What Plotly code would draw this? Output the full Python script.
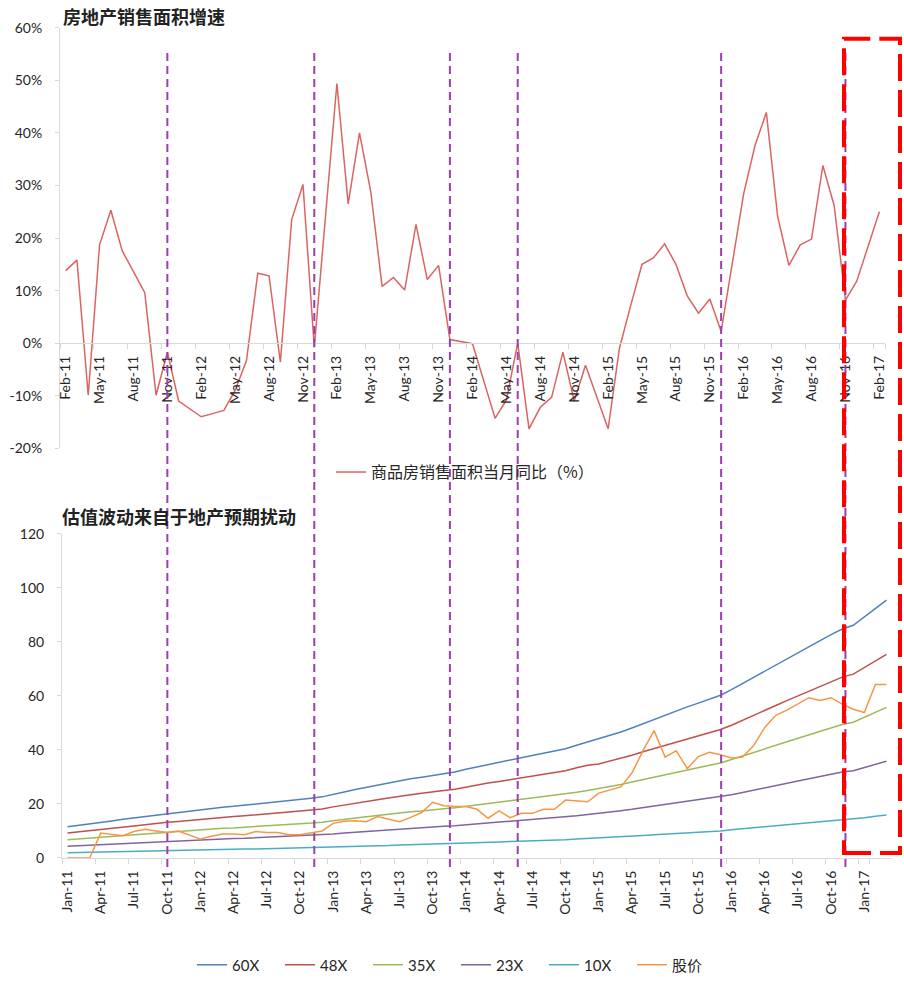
import pandas as pd
import plotly.graph_objects as go

# ---------------- data ----------------
# monthly YoY growth of commodity housing sales area (%); Jan is reported jointly with Feb
sales_months = pd.date_range("2011-02-01", "2017-02-01", freq="MS").strftime("%b-%y").tolist()
sales_yoy = [
    13.8, 15.8, -9.9, 18.7, 25.3, 17.6, 13.6, 9.6, -9.9, -1.7, -11.0,
    None, -14.0, -13.4, -12.8, -9.0, -3.3, 13.3, 12.8, -3.6, 23.5, 30.2, -0.8,
    None, 49.4, 26.5, 40.0, 28.8, 10.8, 12.5, 10.1, 22.6, 12.1, 14.8, 0.7,
    None, -0.1, -7.2, -14.3, -10.8, 0.0, -16.3, -12.2, -10.3, -1.7, -11.0, -4.2,
    None, -16.3, -1.0, 7.2, 15.0, 16.2, 18.9, 15.0, 9.0, 5.7, 8.4, 2.2,
    None, 28.5, 37.6, 43.9, 24.1, 14.8, 18.7, 19.8, 33.8, 26.2, 8.2, 11.8,
    None, 25.0,
]
sales_ticks = sales_months[::3]
pct_vals = [-20, -10, 0, 10, 20, 30, 40, 50, 60]
pct_text = ["-20%", "-10%", "0%", "10%", "20%", "30%", "40%", "50%", "60%"]

# months where the sales cycle turned (vertical guides)
turn_months = ["Nov-11", "Dec-12", "Dec-13", "Jun-14", "Dec-15", "Nov-16"]

# valuation bands (PE multiples x earnings) and share price, Jan-11 .. Mar-17
val_months = pd.date_range("2011-01-01", "2017-03-01", freq="MS").strftime("%b-%y").tolist()
val_ticks = val_months[:73:3]
pe60 = [
    11.5, 12.0, 12.5, 13.1, 13.7, 14.3, 14.8, 15.4, 16.0, 16.5, 16.9, 17.4,
    17.8, 18.3, 18.8, 19.1, 19.5, 19.9, 20.4, 20.8, 21.2, 21.7, 22.1, 22.6,
    23.6, 24.4, 25.3, 26.1, 26.9, 27.8, 28.6, 29.3, 29.9, 30.6, 31.2, 31.8,
    32.8, 33.7, 34.6, 35.4, 36.3, 37.1, 37.9, 38.8, 39.6, 40.4, 41.7, 42.9,
    44.0, 45.3, 46.6, 48.1, 49.7, 51.3, 52.9, 54.4, 55.9, 57.3, 58.8, 60.2,
    62.3, 64.6, 66.9, 69.2, 71.5, 73.7, 75.9, 78.2, 80.4, 82.6, 84.7, 86.1,
    89.3, 92.4, 95.4,
]
pe48 = [
    9.2, 9.6, 10.0, 10.5, 11.0, 11.4, 11.8, 12.3, 12.8, 13.2, 13.5, 13.9,
    14.2, 14.6, 15.0, 15.3, 15.6, 15.9, 16.3, 16.6, 17.0, 17.4, 17.7, 18.1,
    18.9, 19.5, 20.2, 20.9, 21.5, 22.2, 22.9, 23.4, 23.9, 24.5, 25.0, 25.4,
    26.2, 27.0, 27.7, 28.3, 29.0, 29.7, 30.3, 31.0, 31.7, 32.3, 33.4, 34.3,
    34.8, 35.8, 36.8, 38.0, 39.3, 40.5, 41.7, 42.9, 44.1, 45.2, 46.4, 47.5,
    49.1, 51.0, 52.8, 54.6, 56.4, 58.2, 59.9, 61.7, 63.4, 65.2, 66.9, 68.0,
    70.4, 72.9, 75.3,
]
pe35 = [
    6.7, 7.0, 7.3, 7.6, 8.0, 8.3, 8.6, 9.0, 9.3, 9.6, 9.9, 10.2,
    10.4, 10.7, 11.0, 11.1, 11.4, 11.6, 11.9, 12.1, 12.4, 12.7, 12.9, 13.2,
    13.8, 14.2, 14.8, 15.2, 15.7, 16.2, 16.7, 17.1, 17.4, 17.9, 18.2, 18.6,
    19.1, 19.7, 20.2, 20.7, 21.2, 21.6, 22.1, 22.6, 23.1, 23.6, 24.3, 25.0,
    25.7, 26.4, 27.2, 28.1, 29.0, 29.9, 30.9, 31.7, 32.6, 33.4, 34.3, 35.1,
    36.3, 37.7, 39.0, 40.4, 41.7, 43.0, 44.3, 45.6, 46.9, 48.2, 49.4, 50.2,
    52.1, 53.9, 55.7,
]
pe23 = [
    4.3, 4.5, 4.7, 4.9, 5.1, 5.4, 5.6, 5.8, 6.0, 6.2, 6.3, 6.5,
    6.7, 6.9, 7.1, 7.2, 7.3, 7.5, 7.7, 7.8, 8.0, 8.1, 8.3, 8.5,
    8.9, 9.2, 9.5, 9.8, 10.1, 10.4, 10.7, 11.0, 11.2, 11.5, 11.7, 11.9,
    12.3, 12.6, 13.0, 13.3, 13.6, 13.9, 14.2, 14.6, 14.9, 15.2, 15.6, 16.1,
    16.5, 17.0, 17.5, 18.0, 18.6, 19.2, 19.8, 20.4, 21.0, 21.5, 22.1, 22.6,
    23.4, 24.2, 25.1, 26.0, 26.8, 27.6, 28.5, 29.3, 30.2, 31.0, 31.8, 32.3,
    33.5, 34.7, 35.8,
]
pe10 = [
    1.9, 2.0, 2.1, 2.2, 2.3, 2.4, 2.5, 2.6, 2.7, 2.8, 2.8, 2.9,
    3.0, 3.1, 3.1, 3.2, 3.3, 3.3, 3.4, 3.5, 3.5, 3.6, 3.7, 3.8,
    3.9, 4.1, 4.2, 4.4, 4.5, 4.6, 4.8, 4.9, 5.0, 5.1, 5.2, 5.3,
    5.5, 5.6, 5.8, 5.9, 6.1, 6.2, 6.3, 6.5, 6.6, 6.7, 7.0, 7.2,
    7.3, 7.6, 7.8, 8.0, 8.3, 8.6, 8.8, 9.1, 9.3, 9.6, 9.8, 10.0,
    10.4, 10.8, 11.2, 11.5, 11.9, 12.3, 12.7, 13.0, 13.4, 13.8, 14.1, 14.4,
    14.9, 15.4, 15.9,
]
price = [
    0, 0, 0, 9.2, 8.8, 8.2, 9.8, 10.6, 10.0, 9.4, 10.0, 8.6,
    7.0, 8.0, 8.9, 8.9, 8.6, 9.8, 9.4, 9.4, 8.6, 8.6, 9.2, 10.0,
    12.8, 13.6, 13.8, 13.4, 15.3, 14.3, 13.4, 15.0, 16.8, 20.6, 19.3, 19.0,
    19.0, 18.0, 14.7, 17.4, 14.9, 16.5, 16.5, 18.0, 18.0, 21.4, 21.2, 20.8,
    24.0, 25.1, 26.3, 31.4, 39.7, 47.1, 37.3, 39.7, 33.0, 37.5, 39.1, 38.2,
    37.0, 37.3, 41.6, 48.3, 52.8, 54.7, 56.9, 59.3, 58.3, 59.3, 56.9, 55.0,
    53.8, 64.2, 64.2,
]
val_series = [
    ("60X", pe60, "#4F81BD"),
    ("48X", pe48, "#C0504D"),
    ("35X", pe35, "#9BBB59"),
    ("23X", pe23, "#8064A2"),
    ("10X", pe10, "#4BACC6"),
    ("股价", price, "#F79646"),
]

# ---------------- style ----------------
W, H = 904, 982
FONT = "Lato, 'Noto Sans CJK SC', sans-serif"
CJK = "'Noto Sans CJK SC', sans-serif"
AXIS = "#D9D9D9"
TEXT = "#262626"


def px_x(p):
    return p / W


def px_y(p):
    return 1 - p / H


top_dom_y = [px_y(452), px_y(28)]
bot_dom_y = [px_y(865), px_y(538)]
zero_pos = top_dom_y[0] + (0 - (-20)) / 80 * (top_dom_y[1] - top_dom_y[0])

fig = go.Figure()

fig.add_trace(go.Scatter(
    x=sales_months, y=sales_yoy, mode="lines", connectgaps=True,
    name="商品房销售面积当月同比（%）",
    line=dict(color="#DB6461", width=1.5),
    xaxis="x", yaxis="y", legend="legend",
))

for name, vals, color in val_series:
    fig.add_trace(go.Scatter(
        x=val_months, y=vals, mode="lines", name=name,
        line=dict(color=color, width=1.5),
        xaxis="x2", yaxis="y2", legend="legend2",
    ))

common_x = dict(
    type="category", tickmode="array", tickson="boundaries",
    ticks="outside", ticklen=5, tickcolor=AXIS, tickangle=-90,
    showline=True, linecolor=AXIS, linewidth=1,
    showgrid=False, zeroline=False, automargin=False,
    ticklabelstandoff=6,
    tickfont=dict(family=FONT, size=14, color=TEXT),
)
common_y = dict(
    ticks="outside", ticklen=4, tickcolor=AXIS,
    showline=True, linecolor=AXIS, linewidth=1,
    showgrid=False, zeroline=False, automargin=False,
    ticklabelstandoff=10,
    tickfont=dict(family=FONT, size=14, color=TEXT),
)

fig.update_layout(
    width=W, height=H,
    margin=dict(l=0, r=0, t=0, b=0),
    paper_bgcolor="white", plot_bgcolor="white",
    font=dict(family=FONT, size=14, color=TEXT),
    xaxis=dict(common_x, domain=[px_x(60), px_x(885)], anchor="free",
               position=zero_pos, range=[-0.5, len(sales_months) - 0.5],
               tickvals=sales_ticks, ticktext=sales_ticks),
    yaxis=dict(common_y, domain=top_dom_y, anchor="x", range=[-20, 60],
               tickmode="array", tickvals=pct_vals, ticktext=pct_text),
    xaxis2=dict(common_x, domain=[px_x(62), px_x(892)], anchor="y2",
                range=[-0.5, len(val_months) - 0.5],
                tickvals=val_ticks, ticktext=val_ticks),
    yaxis2=dict(common_y, domain=bot_dom_y, anchor="x2", range=[0, 120], dtick=20),
    legend=dict(orientation="h", x=px_x(331), xanchor="left",
                y=px_y(476), yanchor="middle",
                font=dict(family=CJK, size=16, color=TEXT),
                bgcolor="rgba(0,0,0,0)"),
    legend2=dict(orientation="h", x=px_x(192), xanchor="left",
                 y=px_y(973), yanchor="middle",
                 entrywidth=43, entrywidthmode="pixels",
                 font=dict(family=FONT, size=15, color=TEXT),
                 bgcolor="rgba(0,0,0,0)"),
    showlegend=True,
)

# chart titles
fig.add_annotation(text="房地产销售面积增速", xref="paper", yref="paper",
                   x=px_x(61), y=px_y(16), xanchor="left", yanchor="middle",
                   showarrow=False, font=dict(family=CJK, size=18, color="#222222", weight="bold"))
fig.add_annotation(text="估值波动来自于地产预期扰动", xref="paper", yref="paper",
                   x=px_x(60), y=px_y(520), xanchor="left", yanchor="middle",
                   showarrow=False, font=dict(family=CJK, size=18, color="#222222", weight="bold"))

# vertical guides at sales turning points, spanning both panels
for m in turn_months:
    fig.add_shape(type="line", xref="x", yref="paper", x0=m, x1=m,
                  y0=px_y(874), y1=px_y(50),
                  line=dict(color="#9B3FAF", width=2, dash="8px,5px"))

# highlight box around the latest period
fig.add_shape(type="rect", xref="paper", yref="paper",
              x0=px_x(844), x1=px_x(900), y0=px_y(860), y1=px_y(39),
              line=dict(color="#FF0000", width=4, dash="27px,9px"),
              fillcolor="rgba(0,0,0,0)")

fig.write_html("out.html")
